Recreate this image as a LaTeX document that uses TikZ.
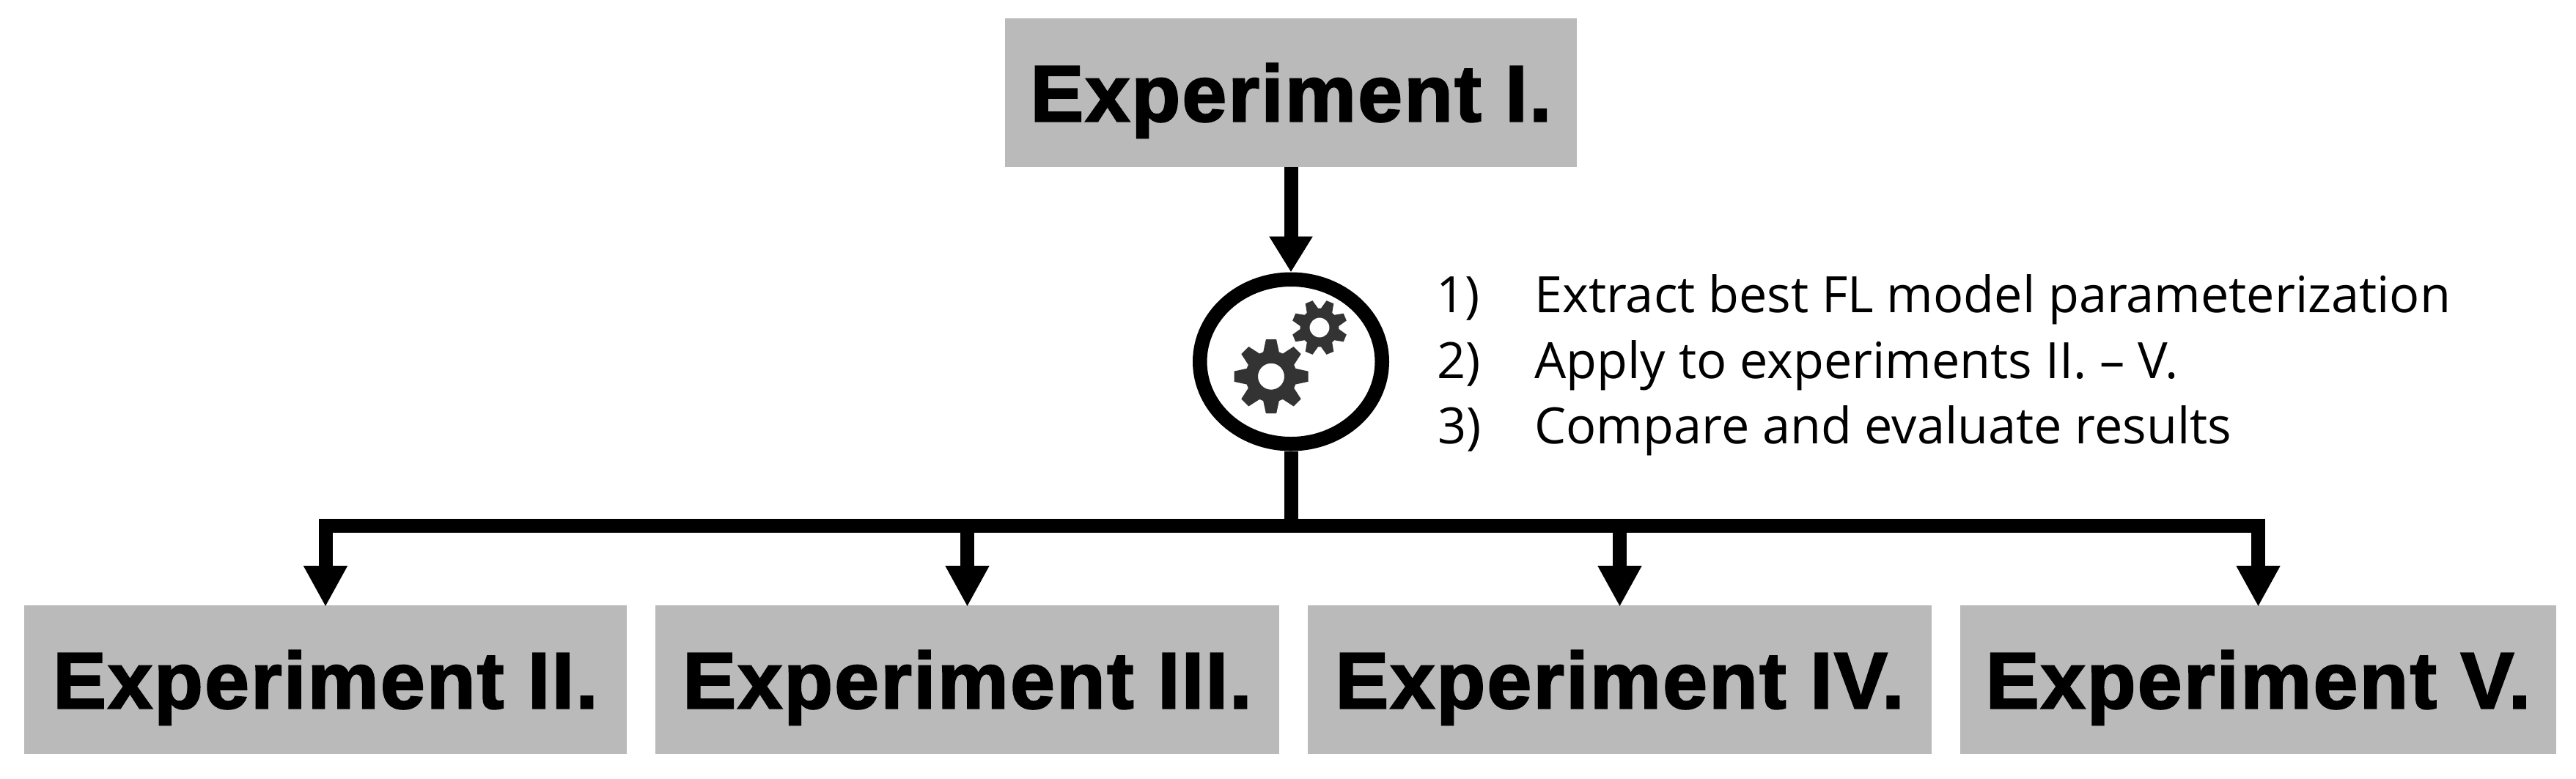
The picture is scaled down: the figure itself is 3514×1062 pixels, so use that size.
\documentclass[tikz,border=0pt]{standalone}
\usepackage{fontspec}
\setmainfont{Open Sans}
\newfontfamily\boxfont{Liberation Sans}[BoldFeatures={FakeBold=2.2,LetterSpace=2.2}]
\usetikzlibrary{arrows.meta,shapes.geometric}
\definecolor{boxgray}{HTML}{BABABA}
\definecolor{geargray}{HTML}{333333}
\tikzset{
  x=0.5pt,y=-0.5pt,
  expbox/.style={fill=boxgray,draw=none,inner sep=0pt,outer sep=0pt,minimum height=101.5pt,
    text height=39pt,text depth=0pt,text=black,font=\boxfont\bfseries\fontsize{54.5}{60}\selectfont},
  flow/.style={line width=9.5pt,draw=black},
  toparrow/.style={flow,-{Triangle[length=24.5pt,width=28pt]}},
  droparrow/.style={flow,-{Triangle[length=28pt,width=28pt]},shorten >=-1pt},
  hubnode/.style={ellipse,draw=black,line width=9.75pt,fill=white,outer sep=4.875pt,inner sep=0pt,
    minimum width=124.25pt,minimum height=112.25pt},
  steptext/.style={font=\fontsize{34.2}{40}\selectfont,text=black,inner sep=0pt,anchor=base west},
  gearfill/.style={fill=geargray,even odd rule,draw=none},
}
% #1 x, #2 y, #3 outer radius, #4 root radius, #5 hole radius, #6 rotation
\newcommand{\cogwheel}[6]{%
  \fill[gearfill] ({#1+#4*cos(#6-18)},{#2+#4*sin(#6-18)})
    \foreach \k in {0,...,7} {
      -- ({#1+#4*cos(#6+45*\k-18)},{#2+#4*sin(#6+45*\k-18)})
      -- ({#1+#3*cos(#6+45*\k-8)},{#2+#3*sin(#6+45*\k-8)})
      -- ({#1+#3*cos(#6+45*\k+8)},{#2+#3*sin(#6+45*\k+8)})
      -- ({#1+#4*cos(#6+45*\k+18)},{#2+#4*sin(#6+45*\k+18)})
    } -- cycle
    (#1,#2) circle[radius=#5];
}
\begin{document}
\begin{tikzpicture}
\useasboundingbox (0,0) rectangle (3514,1062);
\node[expbox,minimum width=390pt] (e1) at (1761,126.5) {Experiment I.};
\node[expbox,minimum width=411pt] (e2) at (444,927.5) {Experiment II.};
\node[expbox,minimum width=425.5pt] (e3) at (1319.5,927.5) {Experiment III.};
\node[expbox,minimum width=425.5pt] (e4) at (2209.5,927.5) {Experiment IV.};
\node[expbox,minimum width=406.5pt] (e5) at (3080.5,927.5) {Experiment V.};
\node[hubnode] (hub) at (1761,493.5) {};
\coordinate (bus) at (1761,717.5);
\draw[toparrow] (e1.south) -- (hub.north);
\draw[flow] (hub.south) -- (bus);
\draw[droparrow] (bus) -| (e2.north);
\draw[droparrow] (bus) -| (e3.north);
\draw[droparrow] (bus) -| (e4.north);
\draw[droparrow] (bus) -| (e5.north);
\cogwheel{1734}{513.7}{51}{35}{18}{0}
\cogwheel{1800}{447}{38}{26.5}{13.5}{22.5}
\node[steptext] (n1) at (1959,426) {1)};
\node[steptext] (t1) at (2093,426) {Extract best FL model parameterization};
\node[steptext] (n2) at (1960,516) {2)};
\node[steptext] (t2) at (2093,516) {Apply to experiments II. – V.};
\node[steptext] (n3) at (1961,605) {3)};
\node[steptext] (t3) at (2093,605) {Compare and evaluate results};
\end{tikzpicture}
\end{document}
